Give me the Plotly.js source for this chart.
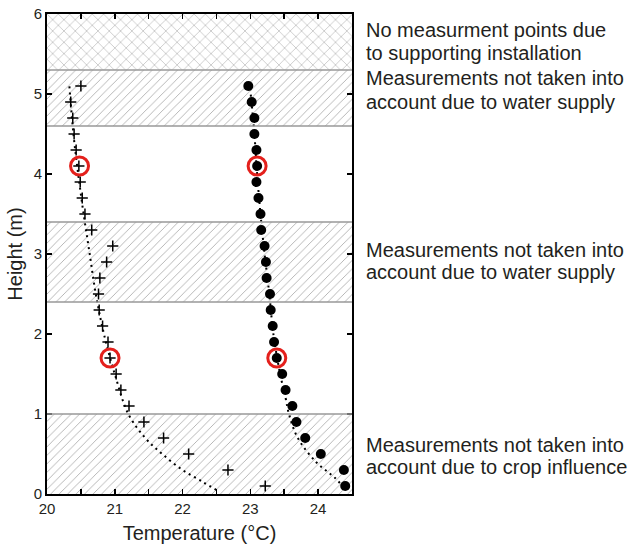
<!DOCTYPE html>
<html>
<head>
<meta charset="utf-8">
<script src="https://cdn.plot.ly/plotly-3.0.1.min.js"></script>
<style>html,body{margin:0;padding:0;background:#fff;}#chart{width:634px;height:545px;}</style>
</head>
<body>
<div id="chart"></div>
<script>
// Measurement heights (m)
const heights = [0.1,0.3,0.5,0.7,0.9,1.1,1.3,1.5,1.7,1.9,2.1,2.3,2.5,2.7,2.9,3.1,3.3,3.5,3.7,3.9,4.1,4.3,4.5,4.7,4.9,5.1];
// Series 1 (plus markers), temperature °C
const tempPlus = [23.22,22.67,22.09,21.72,21.43,21.21,21.09,21.02,20.93,20.90,20.82,20.77,20.76,20.78,20.88,20.97,20.66,20.56,20.52,20.49,20.47,20.43,20.40,20.38,20.35,20.50];
// Series 2 (filled circles), temperature °C
const tempDot = [24.40,24.38,24.04,23.81,23.68,23.62,23.52,23.47,23.39,23.35,23.33,23.30,23.29,23.24,23.23,23.21,23.16,23.15,23.12,23.09,23.10,23.09,23.06,23.06,23.02,22.97];
// Fitted profile 1 (dotted)
const fitPlusH = [0.05,0.15,0.3,0.5,0.7,1.0,1.5,2.0,2.5,3.0,3.5,4.0,4.5,5.1];
const fitPlusT = [22.50,22.30,22.00,21.70,21.45,21.20,21.00,20.84,20.72,20.63,20.54,20.46,20.39,20.33];
// Fitted profile 2 (dotted)
const fitDotH = [0.08,0.2,0.4,0.7,1.0,1.2,1.5,2.0,2.5,3.0,3.5,4.0,4.5,5.05];
const fitDotT = [24.38,24.25,23.97,23.70,23.57,23.52,23.44,23.34,23.28,23.21,23.15,23.10,23.06,23.00];
// Highlighted points (red rings)
const ringT = [20.48,23.10,20.93,23.39];
const ringH = [4.1,4.1,1.7,1.7];
// Excluded zones (height ranges) and their hatching
const zoneLow = [5.3,4.6,2.4,0.0];
const zoneHigh = [6.0,5.3,3.4,1.0];
const zonePattern = ['x','/','/','/'];
// Zone boundary heights
const boundaries = [5.3,4.6,3.4,2.4,1.0];
// Zone description lines and their heights
const zoneLines = [
  'No measurment points due', 'to supporting installation',
  'Measurements not taken into', 'account due to water supply',
  'Measurements not taken into', 'account due to water supply',
  'Measurements not taken into', 'account due to crop influence'
];
const zoneLineH = [5.80,5.51,5.20,4.90,3.05,2.77,0.61,0.34];
const xRange = [20, 24.5];

const traces = [];
zoneLow.forEach((lo, i) => {
  const hi = zoneHigh[i];
  traces.push({
    type: 'scatter', mode: 'lines',
    x: [xRange[0], xRange[1], xRange[1], xRange[0], xRange[0]],
    y: [lo, lo, hi, hi, lo],
    fill: 'toself', fillcolor: 'white',
    fillpattern: {shape: zonePattern[i], size: zonePattern[i] === 'x' ? 8 : 6, solidity: 0.14, fgcolor: '#ababab', bgcolor: 'white'},
    line: {width: 0, color: 'rgba(0,0,0,0)'},
    hoverinfo: 'skip', showlegend: false
  });
});
traces.push({
  type: 'scatter', mode: 'lines', x: fitPlusT, y: fitPlusH,
  line: {color: 'black', width: 2, dash: '2px,4px', shape: 'spline'},
  hoverinfo: 'skip', showlegend: false
});
traces.push({
  type: 'scatter', mode: 'lines', x: fitDotT, y: fitDotH,
  line: {color: 'black', width: 2, dash: '2px,4px', shape: 'spline'},
  hoverinfo: 'skip', showlegend: false
});
traces.push({
  type: 'scatter', mode: 'markers', x: tempPlus, y: heights,
  marker: {symbol: 'cross-thin', size: 8, color: 'black', line: {color: 'black', width: 1.5}},
  showlegend: false
});
traces.push({
  type: 'scatter', mode: 'markers', x: tempDot, y: heights,
  marker: {symbol: 'circle', size: 10, color: 'black'},
  showlegend: false
});
traces.push({
  type: 'scatter', mode: 'markers', x: ringT, y: ringH,
  marker: {symbol: 'circle-open', size: 18, color: '#e4201c', line: {color: '#e4201c', width: 3}},
  showlegend: false
});

const shapes = boundaries.map(b => ({
  type: 'line', xref: 'x', yref: 'y', x0: xRange[0], x1: xRange[1], y0: b, y1: b,
  line: {color: '#999999', width: 1.5}, layer: 'above'
}));

const annotations = zoneLines.map((t, i) => ({
  xref: 'paper', yref: 'y', x: 1.039, y: zoneLineH[i], xanchor: 'left', yanchor: 'middle',
  text: t, align: 'left', showarrow: false,
  font: {family: 'Liberation Sans, Arial, sans-serif', size: 20, color: '#231f20'}
}));

const layout = {
  width: 634, height: 545,
  margin: {l: 47, r: 282, t: 14, b: 51},
  paper_bgcolor: 'white', plot_bgcolor: 'white',
  font: {family: 'Liberation Sans, Arial, sans-serif', size: 15, color: '#231f20'},
  xaxis: {
    range: xRange, tickvals: [20,21,22,23,24], ticks: 'inside', ticklen: 5, tickwidth: 1.5, tickcolor: 'black',
    minor: {dtick: 0.5, tick0: 0, ticks: 'inside', ticklen: 5, tickwidth: 1.5, tickcolor: 'black', showgrid: false},
    showline: true, linewidth: 2, linecolor: 'black', mirror: 'ticks',
    showgrid: false, zeroline: false,
    title: {text: 'Temperature (°C)', font: {size: 20}, standoff: 10}
  },
  yaxis: {
    range: [0, 6], dtick: 1, ticks: 'inside', ticklen: 5, tickwidth: 1.5, tickcolor: 'black',
    showline: true, linewidth: 2, linecolor: 'black', mirror: 'ticks',
    showgrid: false, zeroline: false,
    title: {text: 'Height (m)', font: {size: 20}, standoff: 6}
  },
  shapes: shapes,
  annotations: annotations
};

Plotly.newPlot('chart', traces, layout, {staticPlot: true});
</script>
</body>
</html>
